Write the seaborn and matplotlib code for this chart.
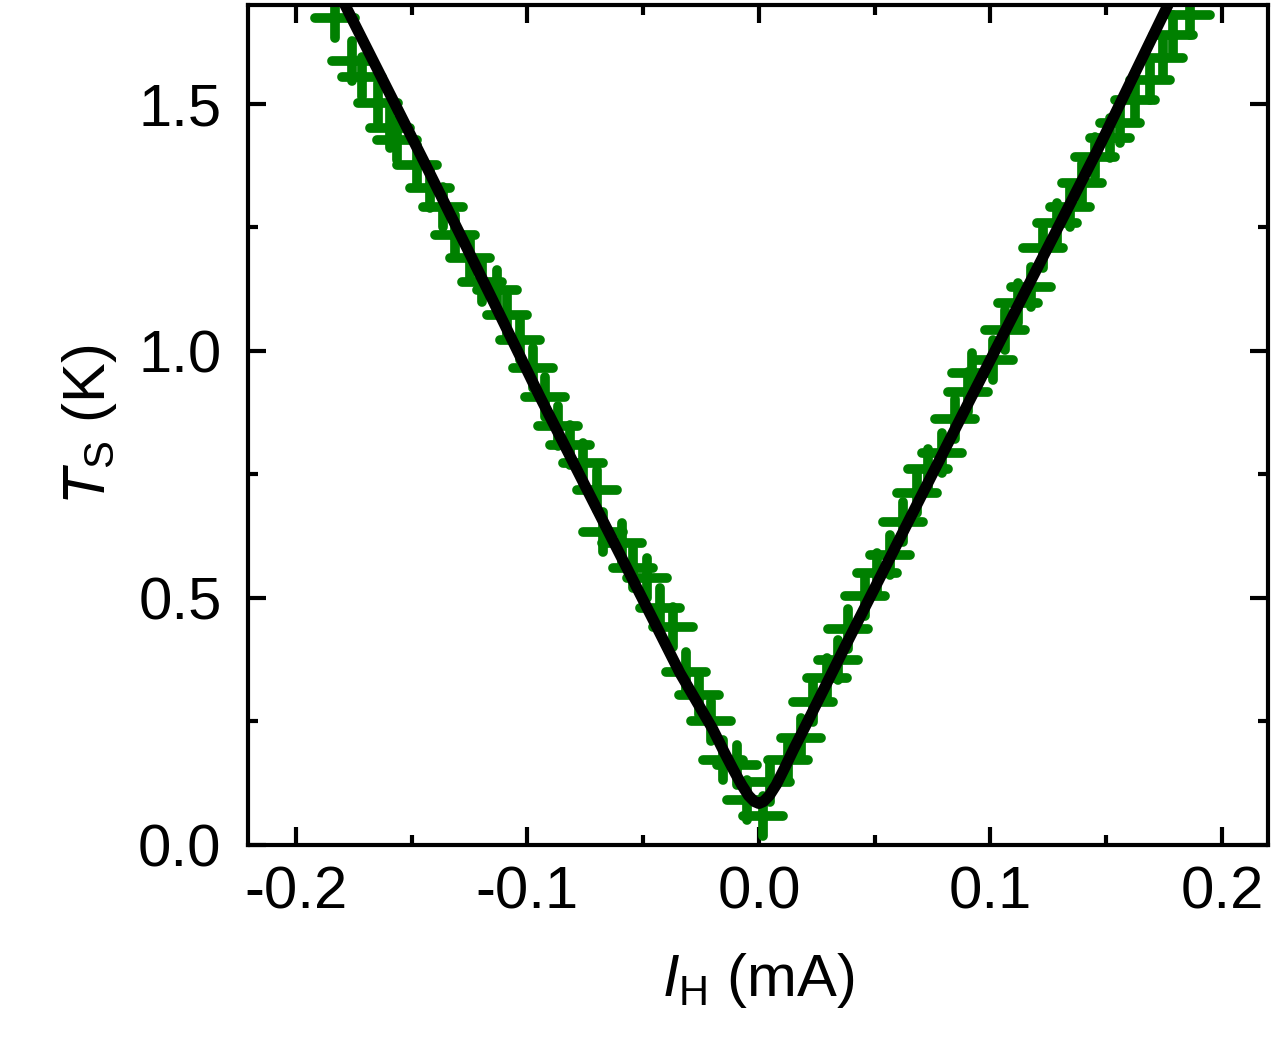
import numpy as np
import pandas as pd
import seaborn as sns
import matplotlib.pyplot as plt
from matplotlib.ticker import MultipleLocator

# measured points (heater current in mA, temperature in K)
current = [-0.1832, -0.1759, -0.1716, -0.1645, -0.1594, -0.1565, -0.1479, -0.1421,
           -0.1364, -0.1313, -0.1248, -0.1198, -0.1133, -0.1090, -0.1032, -0.0978,
           -0.0924, -0.0867, -0.0816, -0.0759, -0.0701, -0.0674, -0.0593, -0.0544,
           -0.0484, -0.0428, -0.0371, -0.0315, -0.0259, -0.0207, -0.0154, -0.0096,
           -0.0053, 0.0016,
           0.0048, 0.0125, 0.0180, 0.0233, 0.0292, 0.0343, 0.0384, 0.0458,
           0.0508, 0.0566, 0.0623, 0.0681, 0.0731, 0.0789, 0.0847, 0.0904,
           0.0919, 0.1012, 0.1063, 0.1120, 0.1175, 0.1228, 0.1286, 0.1343,
           0.1394, 0.1451, 0.1516, 0.1559, 0.1624, 0.1689, 0.1747, 0.1788, 0.1862]
temp = [1.673, 1.586, 1.555, 1.501, 1.451, 1.427, 1.377, 1.329,
        1.292, 1.235, 1.188, 1.140, 1.123, 1.073, 1.022, 0.965,
        0.907, 0.847, 0.810, 0.773, 0.719, 0.634, 0.611, 0.561,
        0.540, 0.480, 0.441, 0.351, 0.304, 0.250, 0.172, 0.162,
        0.091, 0.059,
        0.128, 0.172, 0.216, 0.290, 0.337, 0.374, 0.437, 0.503,
        0.551, 0.587, 0.654, 0.712, 0.760, 0.794, 0.862, 0.916,
        0.955, 0.982, 1.043, 1.097, 1.130, 1.208, 1.258, 1.292,
        1.339, 1.393, 1.431, 1.461, 1.508, 1.549, 1.593, 1.640, 1.680]

# fit curve
fit_current = [-0.1788, -0.1451, -0.1165, -0.0946, -0.0442, -0.0341, -0.0200, -0.0150,
               -0.0110, -0.0075, -0.0045, -0.0020, 0.0, 0.0020, 0.0045, 0.0075,
               0.0110, 0.0150, 0.0200, 0.0379, 0.0904, 0.1459, 0.1767]
fit_temp = [1.700, 1.387, 1.117, 0.907, 0.442, 0.348, 0.235, 0.188,
            0.152, 0.122, 0.100, 0.088, 0.084, 0.088, 0.100, 0.122,
            0.155, 0.194, 0.240, 0.408, 0.894, 1.403, 1.700]

df = pd.DataFrame({"I": current, "T": temp})
fit = pd.DataFrame({"I": fit_current, "T": fit_temp})

sns.set_style("ticks")
plt.rcParams['font.family'] = ['Liberation Sans', 'DejaVu Sans']
plt.rcParams['mathtext.fontset'] = 'custom'
plt.rcParams['mathtext.rm'] = 'Liberation Sans'
plt.rcParams['mathtext.it'] = 'Liberation Sans:italic'
for k in ['text.color', 'axes.labelcolor', 'xtick.color', 'ytick.color', 'axes.edgecolor']:
    plt.rcParams[k] = 'black'

fig = plt.figure(figsize=(12.75, 10.5), dpi=100)
ax = fig.add_axes([248 / 1275, 205 / 1050, 1020 / 1275, 840 / 1050])

sns.scatterplot(data=df, x="I", y="T", ax=ax, color="#008000",
                marker="+", s=840, linewidth=7, zorder=2)
ax.collections[0].set_capstyle("round")
sns.lineplot(data=fit, x="I", y="T", ax=ax, color="black", lw=8, sort=False,
             estimator=None, solid_capstyle="round", solid_joinstyle="round", zorder=3)

ax.set_xlim(-0.2207, 0.2199)
ax.set_ylim(0, 1.70)
ax.xaxis.set_major_locator(MultipleLocator(0.1))
ax.xaxis.set_minor_locator(MultipleLocator(0.05))
ax.yaxis.set_major_locator(MultipleLocator(0.5))
ax.yaxis.set_minor_locator(MultipleLocator(0.25))
ax.xaxis.set_major_formatter(plt.FuncFormatter(lambda v, p: f"{v:.1f}".replace("-0.0", "0.0")))
ax.yaxis.set_major_formatter(plt.FuncFormatter(lambda v, p: f"{v:.1f}"))

for s in ax.spines.values():
    s.set_visible(True)
    s.set_linewidth(3)
    s.set_color("black")
ax.tick_params(which="both", direction="in", top=True, right=True, width=3,
               labelsize=43, color="black", labelcolor="black")
ax.tick_params(which="major", length=13)
ax.tick_params(which="minor", length=7)
ax.tick_params(axis="x", which="major", pad=15)
ax.tick_params(axis="y", which="major", pad=19)

ax.set_xlabel(r"$I_{\mathrm{H}}$ (mA)", fontsize=43, labelpad=22)
ax.set_ylabel(r"$T_{\mathrm{S}}$ (K)", fontsize=43, labelpad=14)

fig.savefig("out.png", dpi=100)
